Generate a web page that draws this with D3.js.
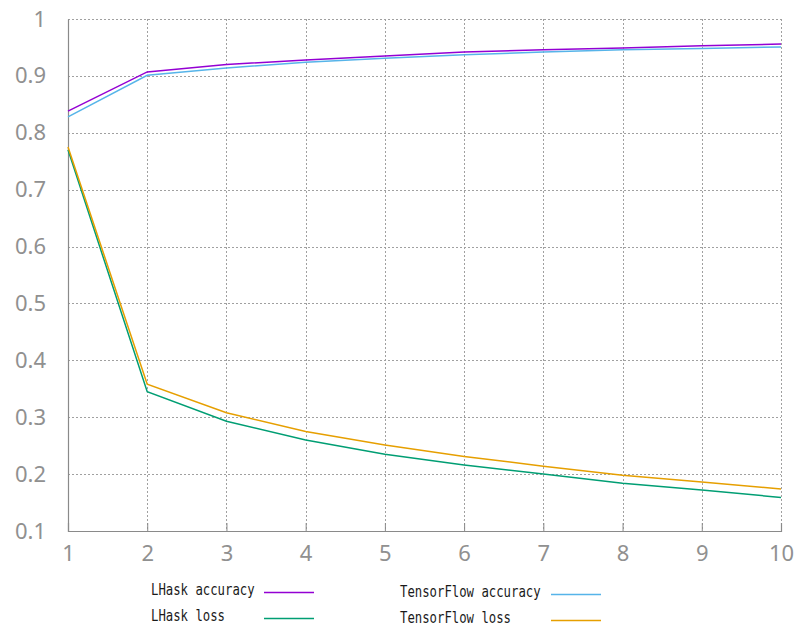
<!DOCTYPE html>
<html>
<head>
<meta charset="utf-8">
<script src="https://cdn.jsdelivr.net/npm/d3@7"></script>
<style>
  body { margin: 0; background: #fff; }
  svg { display: block; }
</style>
</head>
<body>
<div class="chart"></div>
<script>
// epochs and the four series
const epochs = [1, 2, 3, 4, 5, 6, 7, 8, 9, 10]
const lhaskAccuracy = [0.838, 0.907, 0.920, 0.928, 0.935, 0.942, 0.946, 0.949, 0.953, 0.956]
const tfAccuracy = [0.828, 0.901, 0.914, 0.924, 0.931, 0.937, 0.942, 0.946, 0.948, 0.951]
const lhaskLoss = [0.770, 0.345, 0.293, 0.260, 0.235, 0.216, 0.200, 0.184, 0.172, 0.159]
const tfLoss = [0.775, 0.358, 0.308, 0.275, 0.251, 0.231, 0.214, 0.198, 0.186, 0.174]
const yTicks = [0.1, 0.2, 0.3, 0.4, 0.5, 0.6, 0.7, 0.8, 0.9, 1]

const series = [
  { name: "LHask accuracy", values: lhaskAccuracy, color: "#9400d3", col: 0, row: 0 },
  { name: "LHask loss", values: lhaskLoss, color: "#009e73", col: 0, row: 1 },
  { name: "TensorFlow accuracy", values: tfAccuracy, color: "#56b4e9", col: 1, row: 0 },
  { name: "TensorFlow loss", values: tfLoss, color: "#e69f00", col: 1, row: 1 }
]

const W = 798, H = 630
const margin = { top: 19, right: 17, bottom: 99, left: 68 }
const width = W - margin.left - margin.right
const height = H - margin.top - margin.bottom

const svg = d3.select(".chart")
  .append("svg")
  .attr("width", W)
  .attr("height", H)

const g = svg.append("g")
  .attr("transform", `translate(${margin.left},${margin.top})`)

const x = d3.scaleLinear().domain([1, 10]).range([0, width])
const y = d3.scaleLinear().domain([0.1, 1]).range([height, 0])

// dotted grid
g.append("g")
  .selectAll("line")
  .data(yTicks)
  .join("line")
  .attr("x1", 0).attr("x2", width)
  .attr("y1", d => Math.round(y(d)) + 0.5).attr("y2", d => Math.round(y(d)) + 0.5)
  .attr("stroke", "#a0a0a0")
  .attr("stroke-dasharray", "2,2")

g.append("g")
  .selectAll("line")
  .data(epochs)
  .join("line")
  .attr("x1", d => Math.round(x(d)) + 0.5).attr("x2", d => Math.round(x(d)) + 0.5)
  .attr("y1", 0).attr("y2", height)
  .attr("stroke", "#a0a0a0")
  .attr("stroke-dasharray", "2,2")

// axes: left and bottom only, gnuplot style
const xAxis = g.append("g")
  .attr("transform", `translate(0,${height})`)
  .call(d3.axisBottom(x).tickValues(epochs).tickSize(-8).tickPadding(14).tickFormat(d3.format("d")))

const yAxis = g.append("g")
  .call(d3.axisLeft(y).tickValues(yTicks).tickSize(0).tickPadding(22).tickFormat(d => d === 1 ? "1" : d3.format(".1f")(d)))

;[xAxis, yAxis].forEach(a => {
  a.select(".domain").attr("stroke", "#8a8a8a").attr("stroke-width", 1.2)
  a.selectAll(".tick line").attr("stroke", "#8a8a8a")
  a.selectAll(".tick text")
    .attr("fill", "#909090")
    .attr("font-family", "'Noto Sans', 'Open Sans', sans-serif")
    .attr("font-size", 22)
})
xAxis.selectAll(".tick text").attr("dy", "0.71em")

// the lines
const line = d3.line()
  .x((d, i) => x(epochs[i]))
  .y(d => y(d))

g.append("g")
  .selectAll("path")
  .data(series)
  .join("path")
  .attr("fill", "none")
  .attr("stroke", d => d.color)
  .attr("stroke-width", 1.5)
  .attr("d", d => line(d.values))

// legend below the plot
const legend = svg.append("g")
const colText = [151, 400]
const colLine = [264, 551]
const rowY = [[590, 616], [592, 618]]

const item = legend.selectAll("g")
  .data(series)
  .join("g")

item.append("text")
  .attr("x", d => colText[d.col])
  .attr("y", d => rowY[d.col][d.row])
  .attr("dy", "0.33em")
  .attr("font-family", "'DejaVu Sans Mono', monospace")
  .attr("font-size", 16)
  .attr("fill", "#1a1a1a")
  .attr("textLength", d => d.name.length * 7.4)
  .attr("lengthAdjust", "spacingAndGlyphs")
  .text(d => d.name)

item.append("line")
  .attr("x1", d => colLine[d.col])
  .attr("x2", d => colLine[d.col] + 50)
  .attr("y1", d => rowY[d.col][d.row] + 2.5)
  .attr("y2", d => rowY[d.col][d.row] + 2.5)
  .attr("stroke", d => d.color)
  .attr("stroke-width", 1.5)
</script>
</body>
</html>
